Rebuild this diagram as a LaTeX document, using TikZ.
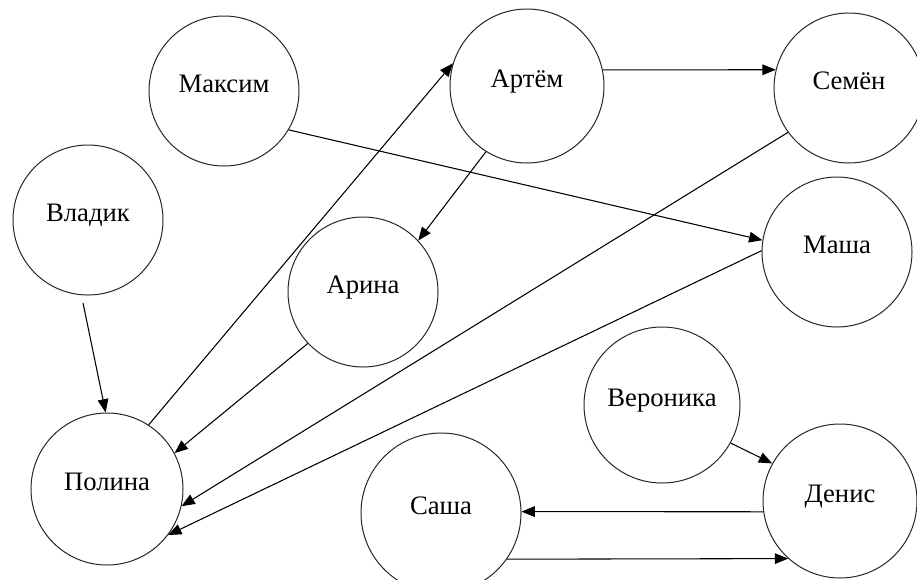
\documentclass[tikz,border=0pt]{standalone}
\usepackage{fontspec}
\setmainfont{Liberation Serif}
\usetikzlibrary{arrows.meta}
\begin{document}
\begin{tikzpicture}[x=0.75pt,y=-0.75pt,
  person/.style={circle, draw=black!85, line width=0.75pt, inner sep=0pt,
    font=\fontsize{20}{23}\selectfont, text height=8pt, text depth=6pt},
  rel/.style={-{Triangle[length=10pt,width=8pt]}, line width=0.8pt, draw=black}]
\useasboundingbox (0,0) rectangle (917,579);
\clip (0,0) rectangle (917,579);
\node[person, minimum size=112.5pt] (maksim) at (224,91) {Максим};
\node[person, minimum size=112.5pt] (vladik) at (88,220) {Владик};
\node[person, minimum size=115.5pt] (artem) at (527,86) {Артём};
\node[person, minimum size=112.5pt] (semen) at (849,88) {Семён};
\node[person, minimum size=112.5pt] (arina) at (363,292) {Арина};
\node[person, minimum size=112.5pt] (masha) at (837,252) {Маша};
\node[person, minimum size=117pt] (veronika) at (662,405) {Вероника};
\node[person, minimum size=115.5pt] (denis) at (840,501) {Денис};
\node[person, minimum size=114pt] (polina) at (107,489) {Полина};
\node[person, minimum size=120pt] (sasha) at (441,513) {Саша};

\draw[rel, shorten <=6pt] (vladik.-95) -- (polina.91);
\draw[rel] (polina.57) -- (artem.163);
\draw[rel] (artem.12) -- (semen.166);
\draw[rel] (artem.238) -- (arina.43);
\draw[rel] (maksim.-31) -- (masha.171.7);
\draw[rel] (semen.216) -- (polina.-13);
\draw[rel] (masha.179) -- (polina.-37.5);
\draw[rel] (arina.223) -- (polina.28);
\draw[rel] (veronika.-29) -- (denis.151);
\draw[rel] (denis.188.2) -- (sasha.1.2);
\draw[rel] (sasha.-35.1) -- (denis.228.9);
\end{tikzpicture}
\end{document}
